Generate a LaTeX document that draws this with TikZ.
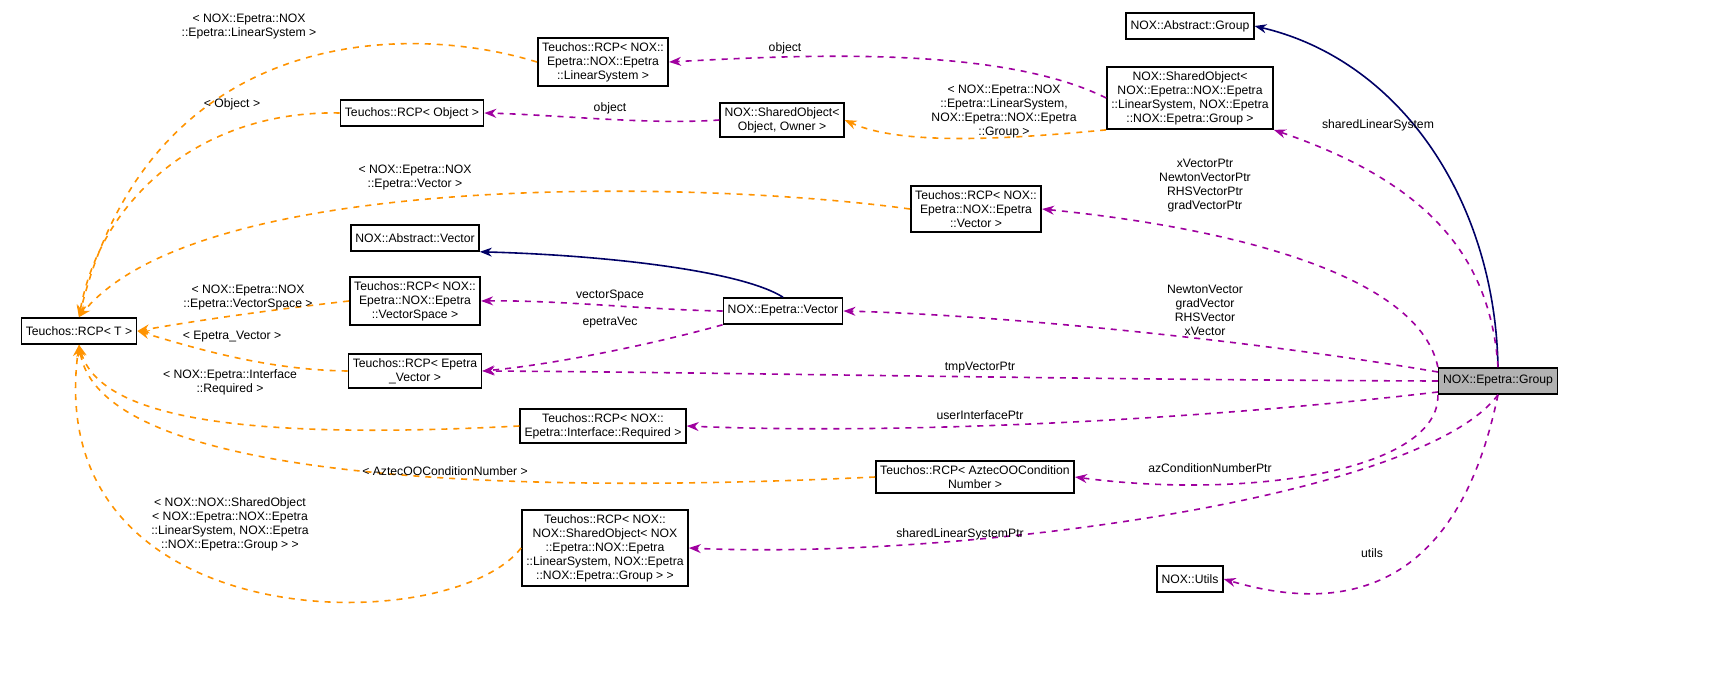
\documentclass[tikz,border=0pt]{standalone}
\usepackage{fontspec}
\setmainfont{Liberation Sans}
\usetikzlibrary{arrows.meta}
\begin{document}
\begin{tikzpicture}[x=0.5pt,y=-0.5pt,
 font=\fontsize{6.1}{7.0}\selectfont,
 box/.style={draw,thick,fill=white,align=center,inner sep=2.2pt,minimum height=13pt},
 lbl/.style={align=center,inner sep=0pt,text=black},
 mem/.style={dashed,thick,color=violet!75!magenta,-{Stealth[length=6pt,width=4.5pt]}},
 tpl/.style={dashed,thick,color=orange!85!yellow,-{Stealth[length=6pt,width=4.5pt]}},
 inh/.style={thick,color=blue!40!black,-{Stealth[length=6pt,width=4.5pt]}}]
\useasboundingbox (0,0) rectangle (1736,674);
\node[box] (T) at (79,331) {Teuchos::RCP< T >};
\node[box] (rls) at (603,62) {Teuchos::RCP< NOX::\\Epetra::NOX::Epetra\\::LinearSystem >};
\node[box] (ag) at (1190,26) {NOX::Abstract::Group};
\node[box] (sls) at (1190,98) {NOX::SharedObject<\\NOX::Epetra::NOX::Epetra\\::LinearSystem, NOX::Epetra\\::NOX::Epetra::Group >};
\node[box] (ro) at (412,113) {Teuchos::RCP< Object >};
\node[box] (so) at (782,120) {NOX::SharedObject<\\Object, Owner >};
\node[box] (rv) at (976,209) {Teuchos::RCP< NOX::\\Epetra::NOX::Epetra\\::Vector >};
\node[box] (av) at (415,238) {NOX::Abstract::Vector};
\node[box] (rvs) at (415,301) {Teuchos::RCP< NOX::\\Epetra::NOX::Epetra\\::VectorSpace >};
\node[box] (ev) at (783,311) {NOX::Epetra::Vector};
\node[box] (rev) at (415,371) {Teuchos::RCP< Epetra\\\_Vector >};
\node[box,fill=black!30] (g) at (1498,381) {NOX::Epetra::Group};
\node[box] (ri) at (603,426) {Teuchos::RCP< NOX::\\Epetra::Interface::Required >};
\node[box] (ra) at (975,477) {Teuchos::RCP< AztecOOCondition\\Number >};
\node[box] (rs) at (605,548) {Teuchos::RCP< NOX::\\NOX::SharedObject< NOX\\::Epetra::NOX::Epetra\\::LinearSystem, NOX::Epetra\\::NOX::Epetra::Group > >};
\node[box] (u) at (1190,579) {NOX::Utils};
% inheritance
\draw[inh] (g.north) .. controls (1495,200) and (1400,60) .. (ag.east);
\draw[inh] (ev.north) .. controls (740,270) and (600,255) .. (av.south east);
% members
\draw[mem] (sls.west) .. controls (1000,45) and (800,55) .. (rls.east);
\node[lbl] at (785,48) {object};
\draw[mem] (g.north) .. controls (1490,250) and (1420,180) .. (sls.south east);
\node[lbl] at (1378,125) {sharedLinearSystem};
\draw[mem] (so.west) .. controls (650,125) and (560,115) .. (ro.east);
\node[lbl] at (610,108) {object};
\draw[mem] (g.north west) .. controls (1420,280) and (1250,230) .. (rv.east);
\node[lbl] at (1205,186) {xVectorPtr\\NewtonVectorPtr\\RHSVectorPtr\\gradVectorPtr};
\draw[mem] (g.west|-0,372) .. controls (1250,340) and (1000,315) .. (ev.east);
\node[lbl] at (1205,310) {NewtonVector\\gradVector\\RHSVector\\xVector};
\draw[mem] (ev.west) .. controls (650,310) and (560,300) .. (rvs.east);
\node[lbl] at (610,296) {vectorSpace};
\draw[mem] (ev.south west) .. controls (650,345) and (550,365) .. (rev.east);
\node[lbl] at (610,323) {epetraVec};
\draw[mem] (g.west) .. controls (1100,380) and (700,372) .. (rev.east);
\node[lbl] at (980,368) {tmpVectorPtr};
\draw[mem] (g.west|-0,392) .. controls (1200,420) and (900,435) .. (ri.east);
\node[lbl] at (980,415) {userInterfacePtr};
\draw[mem] (g.south west) .. controls (1440,470) and (1250,500) .. (ra.east);
\node[lbl] at (1210,468) {azConditionNumberPtr};
\draw[mem] (g.south) .. controls (1420,500) and (950,560) .. (rs.east);
\node[lbl] at (960,534) {sharedLinearSystemPtr};
\draw[mem] (g.south) .. controls (1480,480) and (1430,640) .. (u.east);
\node[lbl] at (1372,553) {utils};
% templates
\draw[tpl] (sls.south west) .. controls (1000,140) and (900,145) .. (so.east);
\node[lbl] at (1004,112) {< NOX::Epetra::NOX\\::Epetra::LinearSystem,\\NOX::Epetra::NOX::Epetra\\::Group >};
\draw[tpl] (rls.west) .. controls (400,20) and (150,30) .. (T.north);
\node[lbl] at (249,27) {< NOX::Epetra::NOX\\::Epetra::LinearSystem >};
\draw[tpl] (ro.west) .. controls (200,110) and (100,200) .. (T.north);
\node[lbl] at (232,104) {< Object >};
\draw[tpl] (rv.west) .. controls (700,180) and (200,170) .. (T.north);
\node[lbl] at (415,178) {< NOX::Epetra::NOX\\::Epetra::Vector >};
\draw[tpl] (rvs.west) .. controls (270,310) and (200,320) .. (T.east);
\node[lbl] at (248,298) {< NOX::Epetra::NOX\\::Epetra::VectorSpace >};
\draw[tpl] (rev.west) .. controls (270,370) and (200,350) .. (T.east);
\node[lbl] at (232,337) {< Epetra\_Vector >};
\draw[tpl] (ri.west) .. controls (250,440) and (100,420) .. (T.south);
\node[lbl] at (230,382) {< NOX::Epetra::Interface\\::Required >};
\draw[tpl] (ra.west) .. controls (500,495) and (100,480) .. (T.south);
\node[lbl] at (445,471) {< AztecOOConditionNumber >};
\draw[tpl] (rs.west) .. controls (450,640) and (40,640) .. (T.south);
\node[lbl] at (230,524) {< NOX::NOX::SharedObject\\< NOX::Epetra::NOX::Epetra\\::LinearSystem, NOX::Epetra\\::NOX::Epetra::Group > >};
\end{tikzpicture}
\end{document}
